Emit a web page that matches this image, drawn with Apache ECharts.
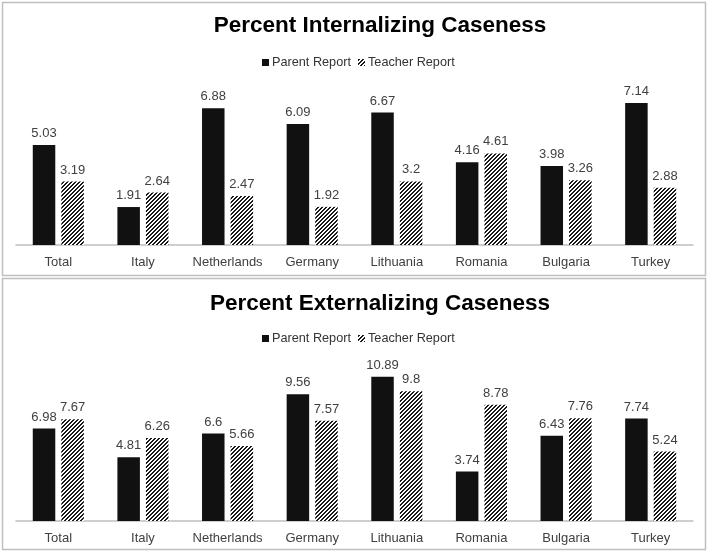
<!DOCTYPE html>
<html>
<head>
<meta charset="utf-8">
<script src="https://cdn.jsdelivr.net/npm/echarts@6/dist/echarts.min.js"></script>
<style>
html,body{margin:0;padding:0;background:#fff;}
#chart{width:709px;height:556px;}
</style>
</head>
<body>
<div id="chart"></div>
<script>
var categories = ['Total', 'Italy', 'Netherlands', 'Germany', 'Lithuania', 'Romania', 'Bulgaria', 'Turkey'];
var internalParent = [5.03, 1.91, 6.88, 6.09, 6.67, 4.16, 3.98, 7.14];
var internalTeacher = [3.19, 2.64, 2.47, 1.92, 3.2, 4.61, 3.26, 2.88];
var externalParent = [6.98, 4.81, 6.6, 9.56, 10.89, 3.74, 6.43, 7.74];
var externalTeacher = [7.67, 6.26, 5.66, 7.57, 9.8, 8.78, 7.76, 5.24];
var seriesNames = ['Parent Report', 'Teacher Report'];
var titles = ['Percent Internalizing Caseness', 'Percent Externalizing Caseness'];

var FONT = '"Liberation Sans", Arial, Helvetica, sans-serif';
var TXT = '#404040';

// hatch pattern
var tile = document.createElement('canvas');
tile.width = 4; tile.height = 4;
var tctx = tile.getContext('2d');
tctx.fillStyle = '#ffffff';
tctx.fillRect(0, 0, 4, 4);
tctx.fillStyle = '#1a1a1a';
for (var px = 0; px < 4; px++) {
  for (var py = 0; py < 4; py++) {
    if ((px + py) % 4 < 2) tctx.fillRect(px, py, 1, 1);
  }
}
var hatch = { image: tile, repeat: 'repeat' };
var solid = '#111111';

var chart = echarts.init(document.getElementById('chart'), null, { renderer: 'canvas' });

function xAxis(idx) {
  return {
    type: 'category', gridIndex: idx, data: categories,
    axisLine: { lineStyle: { color: '#bfbfbf', width: 1.5 } },
    axisTick: { show: false },
    axisLabel: { color: TXT, fontSize: 13, fontFamily: FONT, margin: 11, interval: 0 }
  };
}
function yAxis(idx, max) {
  return {
    type: 'value', gridIndex: idx, min: 0, max: max,
    show: false, splitLine: { show: false }
  };
}
function barSeries(name, data, idx, color) {
  return {
    name: name, type: 'bar', xAxisIndex: idx, yAxisIndex: idx, data: data,
    barWidth: 22.5, barGap: '27%',
    itemStyle: { color: color },
    label: { show: true, position: 'top', distance: 5, color: TXT, fontSize: 13, fontFamily: FONT },
    emphasis: { disabled: true }
  };
}
function legend(names, top) {
  return {
    data: names, left: 257, top: top, itemWidth: 7, itemHeight: 7, itemGap: 7,
    icon: 'rect', selectedMode: false,
    textStyle: { color: '#333', fontSize: 12.7, fontFamily: FONT, padding: [0, 0, 0, -2] },
    formatter: function (n) { return n.trim(); }
  };
}

var option = {
  animation: false,
  backgroundColor: '#ffffff',
  textStyle: { fontFamily: FONT },
  title: [
    { text: titles[0], left: 375, top: 9, textAlign: 'center',
      textStyle: { fontSize: 22.5, fontWeight: 'bold', color: '#000', fontFamily: FONT } },
    { text: titles[1], left: 375, top: 287, textAlign: 'center',
      textStyle: { fontSize: 22.5, fontWeight: 'bold', color: '#000', fontFamily: FONT } }
  ],
  legend: [
    legend(seriesNames, 51),
    legend([seriesNames[0] + ' ', seriesNames[1] + ' '], 327)
  ],
  grid: [
    { left: 16, right: 16, top: 86, height: 159 },
    { left: 16, right: 16, top: 362, height: 159 }
  ],
  xAxis: [xAxis(0), xAxis(1)],
  yAxis: [yAxis(0, 8), yAxis(1, 12)],
  series: [
    barSeries(seriesNames[0], internalParent, 0, solid),
    barSeries(seriesNames[1], internalTeacher, 0, hatch),
    barSeries(seriesNames[0] + ' ', externalParent, 1, solid),
    barSeries(seriesNames[1] + ' ', externalTeacher, 1, hatch)
  ],
  graphic: [
    { type: 'rect', shape: { x: 2.5, y: 2.5, width: 703, height: 273 }, style: { fill: 'none', stroke: '#bfbfbf', lineWidth: 1.5 }, silent: true },
    { type: 'rect', shape: { x: 2.5, y: 278.5, width: 703, height: 271 }, style: { fill: 'none', stroke: '#bfbfbf', lineWidth: 1.5 }, silent: true }
  ]
};
chart.setOption(option);
</script>
</body>
</html>
